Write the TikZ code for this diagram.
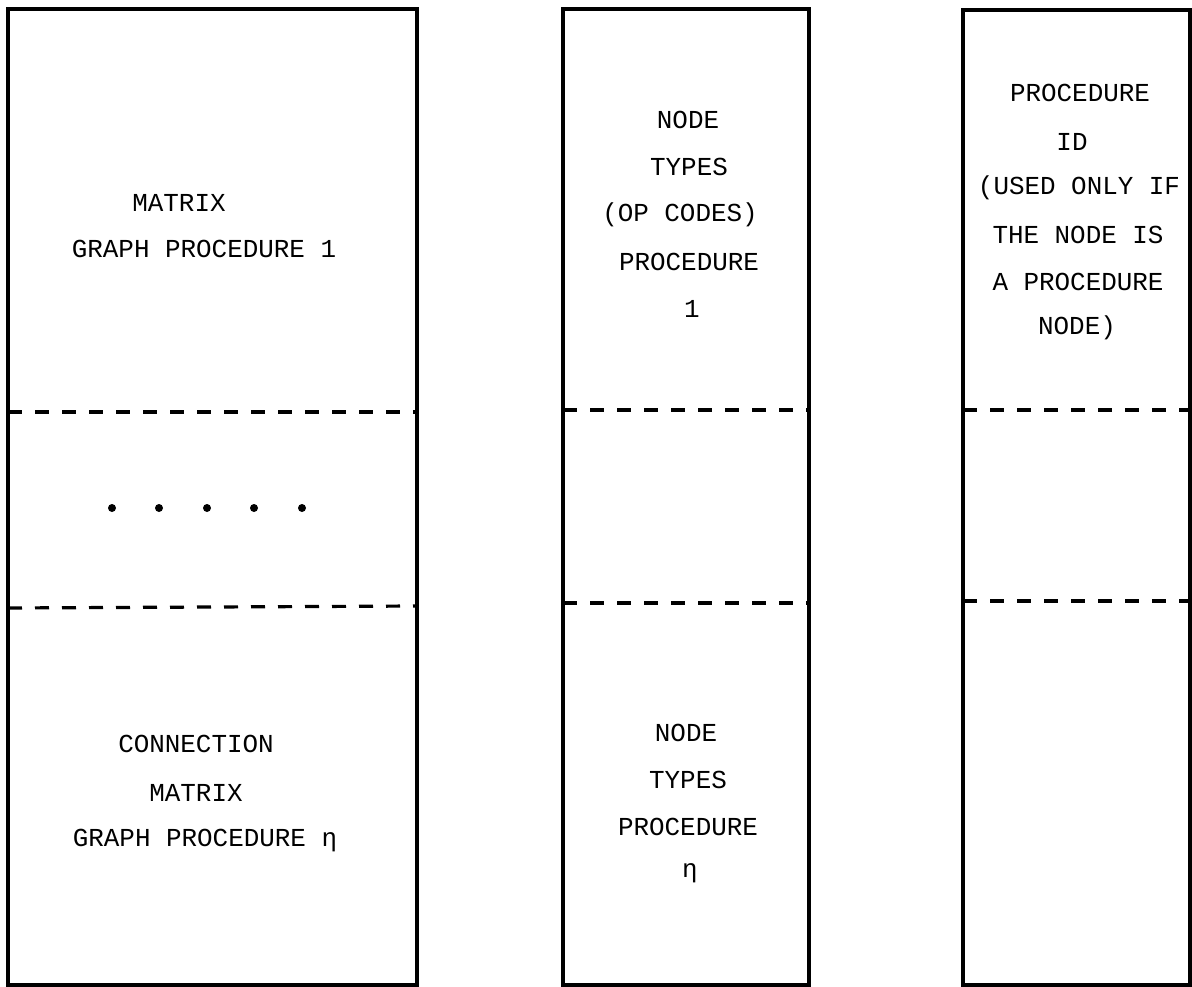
\documentclass[tikz,border=0pt]{standalone}
\usepackage{fontspec}
\newfontfamily\typewriter{Liberation Mono}
\begin{document}
\begin{tikzpicture}[x=1bp,y=-1bp,
  colbox/.style={line width=3.2bp},
  divider/.style={line width=3.2bp, dash pattern=on 14bp off 13bp},
  txt/.style={font=\typewriter\fontsize{26}{26}\selectfont, inner sep=0pt, anchor=center},
  dotmark/.style={circle, fill=black, inner sep=0pt, minimum size=8bp}]
\useasboundingbox (0,0) rectangle (1192,987);
\fill[white] (0,0) rectangle (1192,987);
% boxes
\draw[colbox] (8,9) rectangle (417,985);
\draw[colbox] (563,9) rectangle (809,985);
\draw[colbox] (963,10) rectangle (1190,985);
% dividers
\draw[divider] (8,412) -- (417,412);
\draw[divider] (8,608) -- (417,606);
\draw[divider] (563,410) -- (809,410);
\draw[divider] (563,603) -- (809,603);
\draw[divider] (963,410) -- (1190,410);
\draw[divider] (963,601) -- (1190,601);
% dots
\node[dotmark] (d1) at (112,508) {};
\node[dotmark] (d2) at (159,508) {};
\node[dotmark] (d3) at (207,508) {};
\node[dotmark] (d4) at (254,508) {};
\node[dotmark] (d5) at (302,508) {};
% left column texts
\node[txt] (l1) at (179,203) {MATRIX};
\node[txt] (l2) at (204,249) {GRAPH PROCEDURE 1};
\node[txt] (l3) at (196,744) {CONNECTION};
\node[txt] (l4) at (196,793) {MATRIX};
\node[txt] (l5) at (205,841) {GRAPH PROCEDURE η};
% middle column texts
\node[txt] (m1) at (688,120) {NODE};
\node[txt] (m2) at (689,167) {TYPES};
\node[txt] (m3) at (680,215) {(OP CODES)};
\node[txt] (m4) at (689,262) {PROCEDURE};
\node[txt] (m5) at (692,309) {1};
\node[txt] (m6) at (686,733) {NODE};
\node[txt] (m7) at (688,780) {TYPES};
\node[txt] (m8) at (688,827) {PROCEDURE};
\node[txt] (m9) at (690,873) {η};
% right column texts
\node[txt] (r1) at (1080,93) {PROCEDURE};
\node[txt] (r2) at (1072,142) {ID};
\node[txt] (r3) at (1079,188) {(USED ONLY IF};
\node[txt] (r4) at (1078,235) {THE NODE IS};
\node[txt] (r5) at (1078,282) {A PROCEDURE};
\node[txt] (r6) at (1077,328) {NODE)};
\end{tikzpicture}
\end{document}
